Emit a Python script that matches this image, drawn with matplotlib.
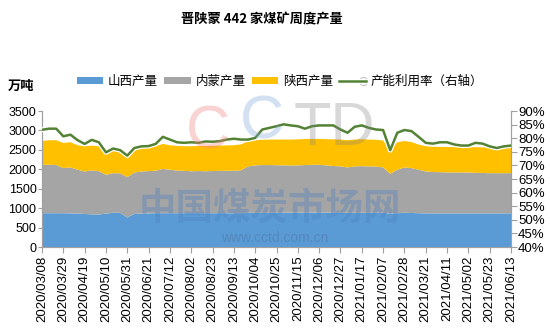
import matplotlib
matplotlib.use("Agg")
import matplotlib.pyplot as plt
import matplotlib.patheffects as pe
from matplotlib.ticker import FuncFormatter
import pandas as pd
import numpy as np

plt.rcParams['font.family'] = ['Liberation Sans', 'Noto Sans CJK SC', 'DejaVu Sans']

# weekly dates 2020/03/08 .. 2021/06/13
dates = pd.date_range('2020-03-08', periods=67, freq='7D')
date_labels = [d.strftime('%Y/%m/%d') for d in dates]

# 山西产量 (万吨)
shanxi = [870, 870, 870, 870, 865, 860, 850, 840, 835, 860,
          880, 880, 760, 850, 860, 865, 870, 870, 870, 870,
          870, 870, 870, 870, 870, 870, 870, 870, 870, 880,
          880, 880, 880, 885, 885, 885, 885, 885, 885, 885,
          885, 885, 880, 880, 880, 880, 880, 880, 880, 860,
          870, 880, 875, 870, 865, 865, 865, 865, 865, 865,
          865, 865, 865, 865, 865, 865, 865]
# 内蒙产量
neimeng = [1240, 1247, 1240, 1161, 1183, 1130, 1094, 1130, 1118, 998,
           1021, 1015, 1037, 1068, 1084, 1088, 1092, 1140, 1120, 1095,
           1090, 1080, 1085, 1080, 1085, 1090, 1092, 1092, 1105, 1194,
           1220, 1229, 1229, 1220, 1215, 1215, 1215, 1225, 1230, 1232,
           1215, 1200, 1194, 1168, 1194, 1200, 1194, 1190, 1168, 1024,
           1118, 1168, 1155, 1120, 1079, 1065, 1060, 1055, 1053, 1053,
           1053, 1045, 1040, 1035, 1035, 1035, 1035]
# 陕西产量
shaanxi = [620, 631, 638, 648, 648, 630, 649, 640, 640, 665,
           648, 640, 623, 623, 605, 614, 628, 643, 629, 635,
           633, 643, 645, 650, 650, 650, 653, 658, 665, 648,
           648, 651, 656, 660, 665, 665, 670, 670, 667, 665,
           675, 685, 691, 700, 691, 695, 691, 690, 692, 622,
           708, 680, 670, 646, 649, 650, 650, 655, 652, 647,
           647, 660, 660, 660, 655, 655, 650]
# 产能利用率 (%)
rate = [83.1, 83.5, 83.5, 80.7, 81.3, 79.3, 77.9, 79.4, 78.5, 74.8,
        76.2, 75.6, 73.6, 76.4, 77.0, 77.1, 77.9, 80.5, 79.5, 78.5,
        78.3, 78.5, 78.3, 78.8, 78.7, 78.9, 79.5, 79.8, 79.5, 79.5,
        80.1, 83.2, 83.8, 84.4, 85.1, 84.7, 84.4, 83.5, 84.4, 84.7,
        84.7, 84.7, 83.2, 82.0, 84.2, 84.7, 83.8, 83.2, 83.0, 75.6,
        82.0, 83.0, 82.6, 80.5, 78.3, 78.0, 78.5, 78.5, 77.7, 77.3,
        77.3, 78.3, 78.0, 77.0, 76.4, 77.0, 77.3]

x = np.arange(len(dates))

fig = plt.figure(figsize=(5.5, 3.33), dpi=100)
ax = fig.add_axes([42/550, 1-247/333, (511-42)/550, (247-111)/333])

ax.stackplot(x, shanxi, neimeng, shaanxi,
             colors=['#5B9BD5', '#A5A5A5', '#FFC000'],
             labels=['山西产量', '内蒙产量', '陕西产量'], zorder=2)
ax.set_xlim(0, len(x) - 1)
ax.set_ylim(0, 3500)
ax.set_yticks(range(0, 3501, 500))
ax.set_xticks(x[::3])
ax.set_xticklabels(date_labels[::3], rotation=90, fontsize=9.5)
ax.tick_params(axis='y', labelsize=9, length=3, color='#A0A0A0', pad=1)
ax.tick_params(axis='x', length=4, color='#A0A0A0', pad=2)

ax2 = ax.twinx()
ln, = ax2.plot(x, rate, color='#548235', lw=1.8, label='产能利用率（右轴）', zorder=3,
               path_effects=[pe.Stroke(linewidth=3.6, foreground='white'), pe.Normal()])
ax2.set_ylim(40, 90)
ax2.set_yticks(range(40, 91, 5))
ax2.yaxis.set_major_formatter(FuncFormatter(lambda v, p: f'{v:.0f}%'))
ax2.tick_params(axis='y', labelsize=9.5, length=4, color='#A0A0A0', pad=1)

for a in (ax, ax2):
    a.spines['top'].set_visible(False)
    for s in ('left', 'right', 'bottom'):
        a.spines[s].set_color('#A0A0A0')
        a.spines[s].set_linewidth(0.8)

# watermark
fig.text(0.49, 0.375, '中国煤炭市场网', fontsize=27, color='#4A7FC0', alpha=0.35,
         ha='center', va='center', fontweight='bold', zorder=10,
         family=['Noto Sans CJK SC'])
fig.text(0.50, 0.285, 'www.cctd.com.cn', fontsize=10, color='#4A6FA0', alpha=0.45,
         ha='center', va='center', zorder=10)
fig.text(208/550, 0.60, 'C', fontsize=44, color='#F08080', alpha=0.35,
         ha='center', va='center', zorder=10)
fig.text(262/550, 0.63, 'C', fontsize=44, color='#7FA8D8', alpha=0.35,
         ha='center', va='center', zorder=10)
fig.text(334/550, 0.61, 'TD', fontsize=44, color='#808080', alpha=0.3,
         ha='center', va='center', zorder=10)
fig.text(0.66, 0.75, '®', fontsize=9, color='#B0B0B0', ha='center', va='center')

fig.text(262/550, 1-19/333, '晋陕蒙 442 家煤矿周度产量', fontsize=9.5, fontweight='bold',
         ha='center', va='center', family=['Noto Sans CJK SC'])
fig.text(8/550, 1-86/333, '万吨', fontsize=9.5, fontweight='bold',
         ha='left', va='center', family=['Noto Sans CJK SC'])

h1, l1 = ax.get_legend_handles_labels()
fig.legend(h1 + [ln], l1 + [ln.get_label()], loc='center', ncol=4,
           bbox_to_anchor=(280/550, 1-81/333), frameon=False,
           prop={'family': ['Noto Sans CJK SC'], 'size': 9},
           handlelength=2.1, handleheight=0.5, handletextpad=0.4, columnspacing=0.5)

fig.savefig('out.png', dpi=100)
